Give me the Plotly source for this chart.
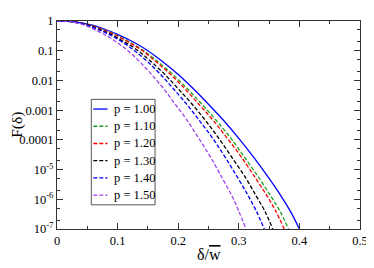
import plotly.graph_objects as go

# read values (log10 F) shared profile levels
logF = [0, -0.01, -0.06, -0.15, -0.29, -0.45, -0.70, -1.00, -1.38, -1.80,
        -2.28, -2.80, -3.35, -3.95, -4.60, -5.30, -5.90, -6.40, -7.00]

x_p100 = [0, 0.020, 0.040, 0.060, 0.080, 0.100, 0.125, 0.150, 0.175, 0.200,
          0.225, 0.250, 0.275, 0.300, 0.325, 0.350, 0.370, 0.385, 0.400]
x_p110 = [0, 0.019, 0.038, 0.057, 0.076, 0.096, 0.119, 0.143, 0.167, 0.191,
          0.215, 0.239, 0.263, 0.287, 0.310, 0.334, 0.353, 0.368, 0.382]
x_p120 = [0, 0.019, 0.0375, 0.056, 0.075, 0.094, 0.117, 0.141, 0.164, 0.1875,
          0.211, 0.234, 0.258, 0.281, 0.305, 0.328, 0.347, 0.361, 0.375]
x_p130 = [0, 0.018, 0.036, 0.053, 0.071, 0.089, 0.111, 0.134, 0.156, 0.178,
          0.200, 0.223, 0.245, 0.267, 0.289, 0.312, 0.329, 0.343, 0.356]
x_p140 = [0, 0.017, 0.034, 0.051, 0.068, 0.086, 0.107, 0.128, 0.150, 0.171,
          0.192, 0.214, 0.235, 0.257, 0.278, 0.299, 0.316, 0.329, 0.342]
x_p150 = [0, 0.016, 0.031, 0.047, 0.062, 0.078, 0.0975, 0.117, 0.137, 0.156,
          0.176, 0.195, 0.215, 0.234, 0.254, 0.273, 0.289, 0.300, 0.312]

labels = ["p = 1.00", "p = 1.10", "p = 1.20", "p = 1.30", "p = 1.40", "p = 1.50"]
xs = [x_p100, x_p110, x_p120, x_p130, x_p140, x_p150]
colors = ["#0000ff", "#1fa01f", "#ff0000", "#000000", "#0000ff", "#a040f0"]
dashes = ["solid", "4px,2px", "4px,2px", "4px,2px", "4px,2px", "4px,2px"]

ytickvals = [1, 0.1, 0.01, 0.001, 0.0001, 1e-5, 1e-6, 1e-7]
yticktext = ["1", "0.1", "0.01", "0.001", "0.0001", "10<sup>-5</sup>", "10<sup>-6</sup>", "10<sup>-7</sup>"]
xtickvals = [0, 0.1, 0.2, 0.3, 0.4, 0.5]
xticktext = ["0", "0.1", "0.2", "0.3", "0.4", "0.5"]

FAM = "Liberation Serif"
AX = "#333333"

# page body has an 8px default margin: size the figure so the plot lands where the reference has it
W, H = 366, 260
ML, MR, MT, MB = 49, 8, 6, 39
PW, PH = W - ML - MR, H - MT - MB


def px_x(px):  # page x pixel -> paper coord
    return (px - 8 - ML) / PW


def px_y(py):  # page y pixel -> paper coord
    return (H - MB - (py - 8)) / PH


fig = go.Figure()
for x, lab, c, d in zip(xs, labels, colors, dashes):
    fig.add_trace(go.Scatter(x=x, y=[10 ** v for v in logF], mode="lines", name=lab,
                             showlegend=False,
                             line=dict(color=c, width=1.3, dash=d, shape="spline", smoothing=1.0)))

# legend box drawn in paper space
shapes = [dict(type="rect", xref="paper", yref="paper",
               x0=px_x(92), x1=px_x(157), y0=px_y(204), y1=px_y(95),
               line=dict(color="#555555", width=1), fillcolor="white", layer="above")]
annotations = []
for i, (lab, c, d) in enumerate(zip(labels, colors, dashes)):
    ry = px_y(105 + i * 17.8)
    shapes.append(dict(type="line", xref="paper", yref="paper",
                       x0=px_x(94), x1=px_x(108.5), y0=ry, y1=ry,
                       line=dict(color=c, width=1.3, dash=d), layer="above"))
    annotations.append(dict(text=lab, xref="paper", yref="paper", x=px_x(113), y=ry,
                            xanchor="left", yanchor="middle", showarrow=False,
                            font=dict(family=FAM, color="black", size=12.5)))

annotations += [
    dict(text="δ/<span style='text-decoration:overline'>w</span>", xref="paper", yref="paper",
         x=0.5, y=px_y(255), xanchor="center", yanchor="middle", showarrow=False,
         font=dict(family=FAM, color="black", size=16)),
    dict(text="F(δ)", xref="paper", yref="paper", textangle=-90,
         x=px_x(16), y=0.5, xanchor="center", yanchor="middle", showarrow=False,
         font=dict(family=FAM, color="black", size=15.5)),
]

fig.update_layout(
    width=W, height=H,
    margin=dict(l=ML, r=MR, t=MT, b=MB),
    paper_bgcolor="white", plot_bgcolor="white",
    font=dict(family=FAM, color="black", size=12),
    showlegend=False,
    xaxis=dict(range=[0, 0.5], tickvals=xtickvals, ticktext=xticktext,
               ticks="inside", ticklen=6, tickcolor=AX, showgrid=False, zeroline=False,
               showline=True, linecolor=AX, linewidth=1, mirror="allticks",
               minor=dict(dtick=0.05, ticks="inside", ticklen=3, tickcolor=AX, showgrid=False),
               tickfont=dict(family=FAM, color="black", size=12.5)),
    yaxis=dict(type="log", range=[-7, 0], tickvals=ytickvals, ticktext=yticktext,
               ticks="inside", ticklen=6, tickcolor=AX, showgrid=False, zeroline=False,
               showline=True, linecolor=AX, linewidth=1, mirror="allticks",
               minor=dict(ticks="inside", ticklen=3, tickcolor=AX, showgrid=False),
               tickfont=dict(family=FAM, color="black", size=12.5)),
    shapes=shapes,
    annotations=annotations,
)

fig.write_html("out.html")
